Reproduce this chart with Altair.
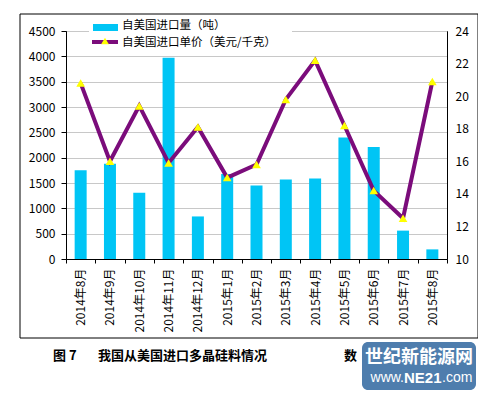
import altair as alt
import pandas as pd

months = ["2014年8月", "2014年9月", "2014年10月", "2014年11月", "2014年12月",
          "2015年1月", "2015年2月", "2015年3月", "2015年4月", "2015年5月",
          "2015年6月", "2015年7月", "2015年8月"]
volume = [1750, 1880, 1310, 3970, 840, 1680, 1450, 1570, 1590, 2400, 2210, 560, 190]
price = [20.8, 16.0, 19.4, 15.9, 18.1, 15.0, 15.8, 19.8, 22.2, 18.2, 14.2, 12.5, 20.9]

bar_name = "自美国进口量（吨）"
line_name = "自美国进口单价（美元/千克）"
caption_fig = "图 7"
caption_text = "我国从美国进口多晶硅料情况"
caption_src = "数"
wm_title = "世纪新能源网"
wm_url_a = "www."
wm_url_b = "NE21"
wm_url_c = ".com"

df = pd.DataFrame({"month": months, "volume": volume, "price": price})
one = pd.DataFrame({"k": [0]})

FONT = "Noto Sans CJK SC"
BAR_COLOR = "#00C5F5"
LINE_COLOR = "#7B0C7B"

x_enc = alt.X("month:N", sort=months, title=None,
              scale=alt.Scale(paddingInner=0, paddingOuter=0),
              axis=alt.Axis(labelAngle=270, tickBand="extent", tickSize=4,
                            labelPadding=5, domainColor="black", tickColor="black",
                            labelFontSize=12, labelColor="black"))

bars = alt.Chart(df).mark_bar(size=12, color=BAR_COLOR).encode(
    x=x_enc,
    y=alt.Y("volume:Q", title=None,
            scale=alt.Scale(domain=[0, 4500], nice=False),
            axis=alt.Axis(values=list(range(0, 4501, 500)), grid=True, format="d",
                          gridColor="#c8c8c8", tickSize=5, tickColor="black",
                          domainColor="black", labelPadding=6,
                          labelFontSize=12, labelColor="black")),
)

line_base = alt.Chart(df).encode(
    x=alt.X("month:N", sort=months),
    y=alt.Y("price:Q", title=None,
            scale=alt.Scale(domain=[10, 24], nice=False),
            axis=alt.Axis(orient="right", values=list(range(10, 25, 2)), grid=False,
                          ticks=False, domainColor="black", labelPadding=8,
                          labelFontSize=12, labelColor="black")),
)
line = line_base.mark_line(color=LINE_COLOR, strokeWidth=4)
pts = line_base.mark_point(shape="triangle-up", filled=True, color="#FFFF00",
                           opacity=1, size=75)

data_layer = alt.layer(bars, line + pts).resolve_scale(y="independent")


def txt(x, y, s, size=12, weight="normal", color="black", align="left", font=FONT):
    return alt.Chart(one).mark_text(align=align, baseline="middle", font=font,
                                    fontSize=size, fontWeight=weight, color=color).encode(
        x=alt.value(x), y=alt.value(y), text=alt.value(s))


frame = alt.Chart(one).mark_rect(fill="white", fillOpacity=0, stroke="black",
                                 strokeWidth=1).encode(
    x=alt.value(-46), x2=alt.value(412), y=alt.value(-17), y2=alt.value(307))

leg_bg = alt.Chart(one).mark_rect(fill="white").encode(
    x=alt.value(23), x2=alt.value(226), y=alt.value(-12), y2=alt.value(20))
leg_bar = alt.Chart(one).mark_rect(fill=BAR_COLOR).encode(
    x=alt.value(27), x2=alt.value(52), y=alt.value(-7), y2=alt.value(0))
leg_line = alt.Chart(one).mark_rule(color=LINE_COLOR, strokeWidth=4).encode(
    x=alt.value(26), x2=alt.value(52), y=alt.value(11))
leg_tri = alt.Chart(one).mark_point(shape="triangle-up", filled=True, color="#FFFF00",
                                    opacity=1, size=60).encode(
    x=alt.value(39), y=alt.value(10))
leg_t1 = txt(56, -5, bar_name, size=11.5)
leg_t2 = txt(56, 12, line_name, size=11.5)

cap1 = txt(-13, 325, caption_fig, size=13, weight="bold")
cap2 = txt(32, 325, caption_text, size=13, weight="bold")
cap3 = txt(278, 325, caption_src, size=13, weight="bold")

wm_box = alt.Chart(one).mark_rect(fill="#4E7DAD", cornerRadius=6).encode(
    x=alt.value(296), x2=alt.value(410), y=alt.value(311), y2=alt.value(359))
wm_t1 = txt(353, 327, wm_title, size=18, weight="bold", color="white", align="center")
wm_t2a = txt(338, 347, wm_url_a, size=14, color="white", align="right",
             font="Liberation Sans")
wm_t2b = txt(338, 347, wm_url_b, size=15, weight="bold", color="white",
             font="Liberation Sans")
wm_t2c = txt(376, 347, wm_url_c, size=14, color="white", font="Liberation Sans")

chart = alt.layer(
    frame, data_layer, leg_bg, leg_bar, leg_line, leg_tri, leg_t1, leg_t2,
    cap1, cap2, cap3, wm_box, wm_t1, wm_t2a, wm_t2b, wm_t2c
).resolve_scale(y="independent").properties(
    width=381, height=228,
    autosize=alt.AutoSizeParams(type="none"),
    padding={"left": 58, "top": 23, "right": 31, "bottom": 133},
    background="white",
).configure_view(stroke="black", strokeWidth=1).configure_axis(
    labelFont=FONT, titleFont=FONT
).configure_text(font=FONT)

chart.save("out.html", embed_options={"renderer": "svg", "actions": False})
